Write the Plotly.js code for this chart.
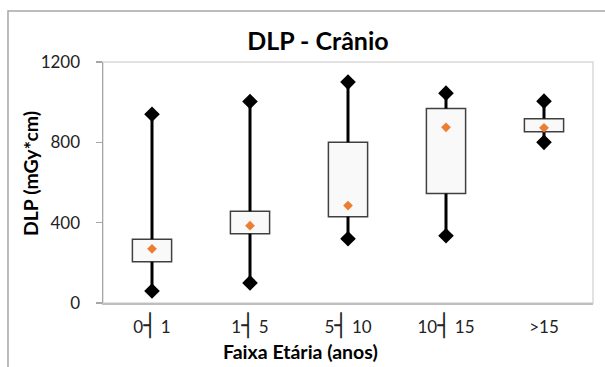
<!DOCTYPE html>
<html>
<head>
<meta charset="utf-8">
<script src="https://cdn.plot.ly/plotly-3.0.1.min.js"></script>
<style>html,body{margin:0;padding:0;background:#fff;}#chart{width:605px;height:367px;}</style>
</head>
<body>
<div id="chart"></div>
<script>
var categories = ['0┤ 1', '1┤ 5', '5┤ 10', '10┤ 15', '>15'];
var minValues  = [60, 100, 320, 335, 800];
var q1Values   = [205, 345, 430, 545, 853];
var q3Values   = [318, 457, 800, 968, 918];
var maxValues  = [940, 1003, 1100, 1045, 1005];
var meanValues = [270, 385, 485, 875, 872];
var yTicks = [0, 400, 800, 1200];

var wx = [], wy = [];
categories.forEach(function (c, i) {
  wx.push(c, c, null, c, c, null);
  wy.push(minValues[i], q1Values[i], null, q3Values[i], maxValues[i], null);
});
var ex = [], ey = [];
categories.forEach(function (c, i) {
  ex.push(c, c);
  ey.push(minValues[i], maxValues[i]);
});
var tickText = categories.map(function (c) {
  return c.replace('┤', '<span style="font-family:DejaVu Sans Mono;font-size:22px">┤</span>');
});

var FONT = 'Lato, "Noto Sans", "DejaVu Sans", sans-serif';

var traces = [
  {
    type: 'bar', x: categories, base: q1Values,
    y: q3Values.map(function (v, i) { return v - q1Values[i]; }),
    width: 0.4,
    marker: { color: '#f9f9f9', line: { color: '#404040', width: 1.5 } },
    hoverinfo: 'skip', showlegend: false
  },
  {
    type: 'scatter', mode: 'lines', x: wx, y: wy,
    line: { color: '#000', width: 3 }, connectgaps: false,
    hoverinfo: 'skip', showlegend: false
  },
  {
    type: 'scatter', mode: 'markers', x: ex, y: ey,
    marker: { symbol: 'diamond', size: 12, color: '#000' },
    showlegend: false
  },
  {
    type: 'scatter', mode: 'markers', x: categories, y: meanValues,
    marker: { symbol: 'diamond', size: 7.5, color: '#ED7D31' },
    showlegend: false
  }
];

var layout = {
  width: 605, height: 367,
  margin: { l: 103, r: 12, t: 62, b: 64 },
  paper_bgcolor: '#fff', plot_bgcolor: '#fff',
  font: { family: FONT, color: '#222' },
  title: {
    text: '<b>DLP - Crânio</b>',
    font: { family: FONT, size: 25, color: '#000' },
    x: 0.5256, xanchor: 'center', xref: 'container',
    y: 0.888, yanchor: 'middle', yref: 'container'
  },
  xaxis: {
    type: 'category', range: [-0.5, 4.5],
    tickmode: 'array', tickvals: categories, ticktext: tickText,
    showgrid: false, zeroline: false,
    showline: true, linecolor: '#bfbfbf', linewidth: 1.5,
    ticks: '', tickfont: { family: FONT, size: 17, color: '#222' },
    ticklabelstandoff: 8, fixedrange: true
  },
  yaxis: {
    range: [0, 1200], tickvals: yTicks,
    showgrid: false, zeroline: false,
    showline: true, linecolor: '#a6a6a6', linewidth: 1.5,
    ticks: 'outside', ticklen: 6, tickcolor: '#a6a6a6', tickwidth: 1.5,
    tickfont: { family: FONT, size: 17, color: '#222' },
    ticklabelstandoff: 12, fixedrange: true
  },
  shapes: [
    { type: 'rect', xref: 'paper', yref: 'paper', x0: 0, x1: 1, y0: 0, y1: 1,
      line: { color: '#d9d9d9', width: 1.5 }, layer: 'below' },
    { type: 'rect', xref: 'paper', yref: 'paper', x0: -0.1939, x1: 1.2, y0: -0.5, y1: 1.2116,
      line: { color: '#a6a6a6', width: 1.5 }, layer: 'below' }
  ],
  annotations: [
    { text: '<b>Faixa Etária (anos)</b>', xref: 'paper', yref: 'paper',
      x: 0.404, y: -0.203, xanchor: 'center', yanchor: 'middle', showarrow: false,
      font: { family: FONT, size: 19.5, color: '#000' } },
    { text: '<b>DLP (mGy*cm)</b>', xref: 'paper', yref: 'paper', textangle: -90,
      x: -0.149, y: 0.539, xanchor: 'center', yanchor: 'middle', showarrow: false,
      font: { family: FONT, size: 19.5, color: '#000' } }
  ]
};

Plotly.newPlot('chart', traces, layout, { displayModeBar: false, staticPlot: true });
</script>
</body>
</html>
